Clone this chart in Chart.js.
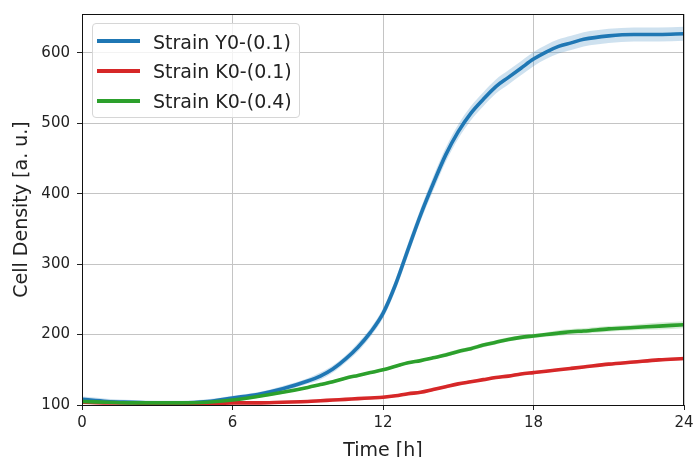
<!DOCTYPE html>
<html>
<head>
<meta charset="utf-8">
<script src="https://cdn.jsdelivr.net/npm/chart.js@4.4.1/dist/chart.umd.min.js"></script>
<style>
html,body{margin:0;padding:0;background:#fff}
#wrap{position:relative;width:694px;height:457px;overflow:hidden}
#legend{position:absolute;left:92px;top:23px;width:208px;height:95px;box-sizing:border-box;border:1px solid #d6d6d6;border-radius:4px;background:rgba(255,255,255,.8);font-family:'DejaVu Sans',sans-serif;font-size:19px;color:#222}
.lg-line{position:absolute;left:4px;width:43px;height:4px}
.lg-text{position:absolute;left:60px;height:22px;line-height:22px;white-space:nowrap}
</style>
</head>
<body>
<div id="wrap">
  <canvas id="chart" width="694" height="457"></canvas>
  <div id="legend"></div>
</div>
<script>
// ─── DATA ───
const times  = [0,1,2,3,4,5,6,7,8,9,9.5,10,10.5,11,11.5,12,12.5,13,13.5,14,14.5,15,15.5,16,16.5,17,17.5,18,18.5,19,19.5,20,21,22,23,24];
const strainY01 = [108,105,104,103,103,105,110,115,123,134,141,151,165,182,203,230,271,321,370,414,455,488,514,534,552,565,578,591,601,609,614,619,624,626,626,627];
const strainK01 = [104,103,103,102,102,102,103,103,104,105,106,107,108,109,110,111,113,116,118,122,126,130,133,136,139,141,144,146,148,150,152,154,158,161,164,166];
const strainK04 = [105,104,103,103,103,104,107,112,118,125,129,133,138,142,146,150,155,160,163,167,171,176,180,185,189,193,196,198,200,202,204,205,208,210,212,214];
// half width of the shaded band
const spreadY01 = [4,4,3,3,3,3,3,3,4,4,5,5,5,6,6,7,8,9,9,10,10,10,10,10,10,10,10,10,10,10,10,10,10,10,10,10];
const spreadK01 = [2,2,2,2,2,2,2,2,2,2,2,2,2,2,2,2,2,2,2,2,2,2,2,2,2,2,2,2,2,2,2,2,2,2,2,2];
const spreadK04 = [2,2,2,2,2,2,2,2,2,2,2,2,2,2,2,2,2,2,2,2,3,3,3,3,3,3,3,3,3,4,4,4,4,4,5,5];

const seriesNames  = ['Strain Y0-(0.1)','Strain K0-(0.1)','Strain K0-(0.4)'];
const seriesColors = ['#1f77b4','#d62728','#2ca02c'];
const bandColors   = ['rgba(31,119,180,.22)','rgba(214,39,40,.2)','rgba(44,160,44,.2)'];
const xTicks = [0,6,12,18,24];
const yTicks = [100,200,300,400,500,600];
const xTitle = 'Time [h]';
const yTitle = 'Cell Density [a. u.]';

const FONT = "'DejaVu Sans'";
const values  = [strainY01,strainK01,strainK04];
const spreads = [spreadY01,spreadK01,spreadK04];

const pts = (v,s,k) => times.map((t,i)=>({x:t,y:v[i]+k*(s?s[i]:0)}));

// lines first (indices 0..2), then bands as upper/lower pairs
const datasets = [];
const lineOrder = [2,1,0]; // green on top, like the source
values.forEach((v,i)=>datasets.push({
  label:seriesNames[i], data:pts(v,null,0), borderColor:seriesColors[i], borderWidth:3.6,
  pointRadius:0, cubicInterpolationMode:'monotone', fill:false, order:lineOrder[i], isLine:true
}));
values.forEach((v,i)=>{
  const lowerIdx = datasets.length+1;
  datasets.push({label:'', data:pts(v,spreads[i],1), borderWidth:0, pointRadius:0,
    cubicInterpolationMode:'monotone', backgroundColor:bandColors[i], fill:lowerIdx, order:5});
  datasets.push({label:'', data:pts(v,spreads[i],-1), borderWidth:0, pointRadius:0,
    cubicInterpolationMode:'monotone', fill:false, order:5});
});

const framePlugin = {
  id:'frame',
  afterDatasetsDraw(c){
    const a=c.chartArea, x=c.ctx;
    x.save(); x.strokeStyle='#111'; x.lineWidth=1;
    x.strokeRect(Math.round(a.left)+.5, Math.round(a.top)+.5, Math.round(a.right-a.left)-1, Math.round(a.bottom-a.top));
    x.restore();
  }
};

const noPad = s => { s.paddingLeft=0; s.paddingRight=0; s.paddingTop=0; s.paddingBottom=0; };

const chart = new Chart(document.getElementById('chart').getContext('2d'), {
  type:'line',
  data:{datasets},
  plugins:[framePlugin],
  options:{
    responsive:false, animation:false, devicePixelRatio:1,
    layout:{padding:{top:14,right:10,left:0,bottom:0}},
    plugins:{legend:{display:false}, tooltip:{enabled:false}},
    scales:{
      x:{
        type:'linear', min:0, max:24,
        afterBuildTicks:s=>{ s.ticks = xTicks.map(v=>({value:v})); },
        afterFit:s=>{ s.height = 52; noPad(s); },
        ticks:{color:'#222', font:{family:FONT,size:15}, padding:4, maxRotation:0, autoSkip:false},
        grid:{color:'#c4c4c4', lineWidth:1, tickLength:5, tickColor:'#222'},
        border:{display:false},
        title:{display:true, text:xTitle, color:'#222', font:{family:FONT,size:19}, padding:{top:0,bottom:-5}}
      },
      y:{
        type:'linear', min:100, max:655,
        afterBuildTicks:s=>{ s.ticks = yTicks.map(v=>({value:v})); },
        afterFit:s=>{ s.width = 82; noPad(s); },
        ticks:{color:'#222', font:{family:FONT,size:15}, padding:7},
        grid:{color:'#c4c4c4', lineWidth:1, tickLength:5, tickColor:'#222'},
        border:{display:false},
        title:{display:true, text:yTitle, color:'#222', font:{family:FONT,size:19}, padding:{top:10.7,bottom:0}}
      }
    }
  }
});

// ─── LEGEND (html, built from the line datasets) ───
const rowCenters = [17.3,46.7,76.7];
document.getElementById('legend').innerHTML = chart.data.datasets.filter(d=>d.isLine).map((d,i)=>
  `<div class="lg-line" style="top:${rowCenters[i]-2}px;background:${d.borderColor}"></div>
   <div class="lg-text" style="top:${rowCenters[i]-10.5}px">${d.label}</div>`).join('');
</script>
</body>
</html>
